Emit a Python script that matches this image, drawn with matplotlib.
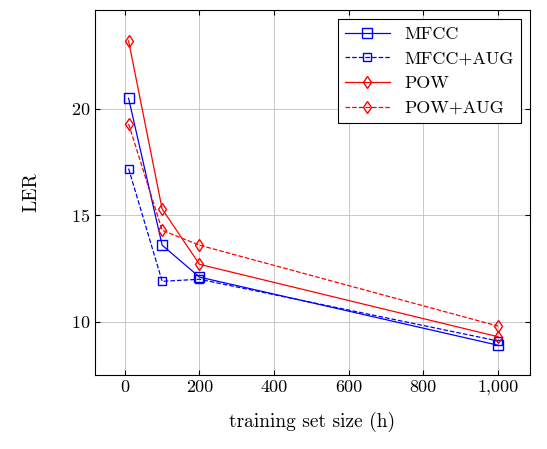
import matplotlib
matplotlib.use("Agg")
import matplotlib.pyplot as plt
from matplotlib.ticker import FuncFormatter

plt.rcParams['font.family'] = ['cmr10', 'DejaVu Serif']
plt.rcParams['axes.unicode_minus'] = False
plt.rcParams['axes.formatter.use_mathtext'] = True

x = [10, 100, 200, 1000]
mfcc = [20.5, 13.6, 12.1, 8.9]
mfcc_aug = [17.2, 11.9, 12.0, 9.1]
pow_ = [23.2, 15.3, 12.7, 9.3]
pow_aug = [19.3, 14.3, 13.6, 9.8]

fig = plt.figure(figsize=(5.47, 4.49), dpi=100)
ax = fig.add_axes([95/547, 1-375/449, 435/547, 365/449])
ax.plot(x, mfcc, '-', color='blue', marker='s', mfc='none', ms=7, lw=0.9, label='MFCC')
ax.plot(x, mfcc_aug, '--', color='blue', marker='s', mfc='none', ms=6, lw=0.9, label='MFCC+AUG')
ax.plot(x, pow_, '-', color='red', marker='d', mfc='none', ms=6, lw=0.9, label='POW')
ax.plot(x, pow_aug, '--', color='red', marker='d', mfc='none', ms=6, lw=0.9, label='POW+AUG')
ax.set_xlim(-80, 1086)
ax.set_ylim(7.5, 24.65)
ax.set_xticks([0, 200, 400, 600, 800, 1000])
ax.set_yticks([10, 15, 20])
ax.xaxis.set_major_formatter(FuncFormatter(lambda v, p: f"{int(v):,}"))
ax.grid(True, color='#c0c0c0', lw=0.6)
ax.tick_params(direction='in', labelsize=13, top=True, right=True)
ax.set_xlabel('training set size (h)', fontsize=14, labelpad=12)
ax.set_ylabel('LER', fontsize=14, labelpad=22)
leg = ax.legend(loc='upper right', fontsize=13, fancybox=False, edgecolor='black', framealpha=1, handlelength=2.5)
leg.get_frame().set_linewidth(0.8)
for s in ax.spines.values():
    s.set_linewidth(0.8)
fig.savefig('out.png', dpi=100)
